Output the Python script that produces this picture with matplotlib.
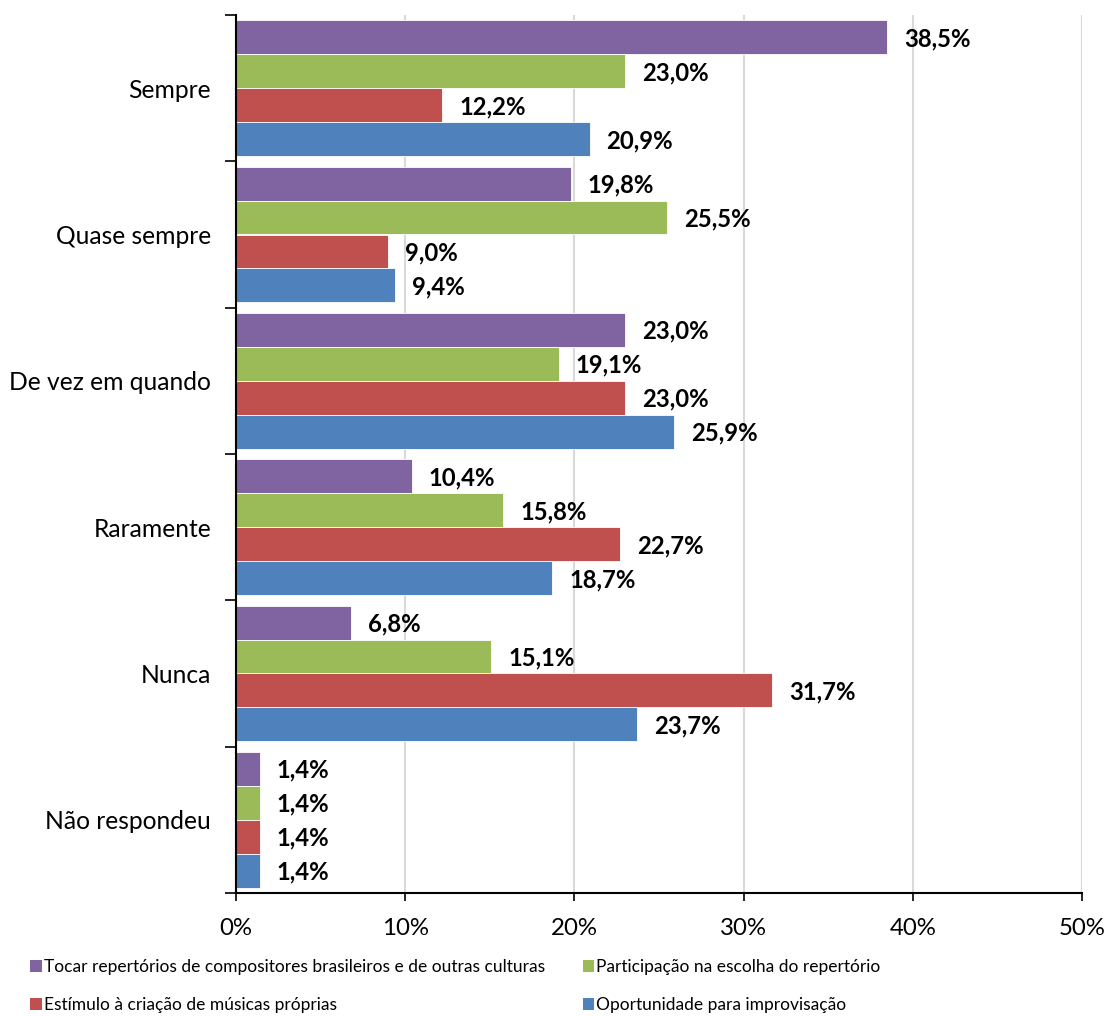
import matplotlib
matplotlib.use("Agg")
import matplotlib.pyplot as plt
from matplotlib.patches import Patch
from matplotlib.ticker import MultipleLocator, FuncFormatter, FixedLocator
import numpy as np

plt.rcParams['font.family'] = ['Lato', 'DejaVu Sans']

categories = ["Sempre", "Quase sempre", "De vez em quando", "Raramente", "Nunca", "Não respondeu"]
series_names = [
    "Tocar repertórios de compositores brasileiros e de outras culturas",
    "Participação na escolha do repertório",
    "Estímulo à criação de músicas próprias",
    "Oportunidade para improvisação",
]
tocar = [38.5, 19.8, 23.0, 10.4, 6.8, 1.4]
participacao = [23.0, 25.5, 19.1, 15.8, 15.1, 1.4]
estimulo = [12.2, 9.0, 23.0, 22.7, 31.7, 1.4]
oportunidade = [20.9, 9.4, 25.9, 18.7, 23.7, 1.4]
series_values = [tocar, participacao, estimulo, oportunidade]
colors = ["#8064A2", "#9BBB59", "#C0504D", "#4F81BD"]

fig = plt.figure(figsize=(11.07, 10.16), dpi=100)
ax = fig.add_axes([236 / 1107, 1 - 893 / 1016, (1082 - 236) / 1107, (893 - 15) / 1016])

n = len(categories)
bar_h = 0.232
centers = np.arange(n) + 0.5
for k, (vals, col) in enumerate(zip(series_values, colors)):
    y = centers + (k - 1.5) * bar_h
    ax.barh(y, vals, height=bar_h, color=col, edgecolor="white", linewidth=0.6, zorder=2)
    for yy, v in zip(y, vals):
        ax.annotate(f"{v:.1f}%".replace(".", ","), xy=(v, yy), xytext=(12, -1),
                    textcoords="offset points", ha="left", va="center",
                    fontsize=17.2, fontweight="bold", color="black")

ax.set_xlim(0, 50)
ax.set_ylim(n, 0)
ax.xaxis.set_major_locator(MultipleLocator(10))
ax.xaxis.set_major_formatter(FuncFormatter(lambda x, p: f"{x:.0f}%"))
ax.tick_params(axis="x", labelsize=17.3, length=6, width=1.2, direction="out", pad=12)
ax.grid(axis="x", color="#d9d9d9", linewidth=1.5, zorder=0)
ax.set_axisbelow(True)

ax.yaxis.set_major_locator(FixedLocator(np.arange(n + 1)))
ax.yaxis.set_major_formatter(FuncFormatter(lambda y, p: ""))
ax.set_yticks(centers, labels=categories, minor=True)
ax.tick_params(axis="y", which="major", length=8, width=1.2, direction="out")
ax.tick_params(axis="y", which="minor", length=0, labelsize=17.7, pad=18)

for s in ["top", "right"]:
    ax.spines[s].set_visible(False)
for s in ["left", "bottom"]:
    ax.spines[s].set_linewidth(1.5)
    ax.spines[s].set_color("black")

# two rows, filled left-to-right
order = [0, 2, 1, 3]
handles = [Patch(facecolor=colors[i], edgecolor="none") for i in order]
labels = [series_names[i] for i in order]
fig.legend(handles, labels, ncol=2, loc="upper left",
           bbox_to_anchor=(0.021, 0.063), frameon=False, fontsize=12.5,
           handlelength=0.68, handleheight=0.68, handletextpad=0.12,
           columnspacing=2.15, labelspacing=1.25, borderaxespad=0)

fig.savefig("out.png", dpi=100)
